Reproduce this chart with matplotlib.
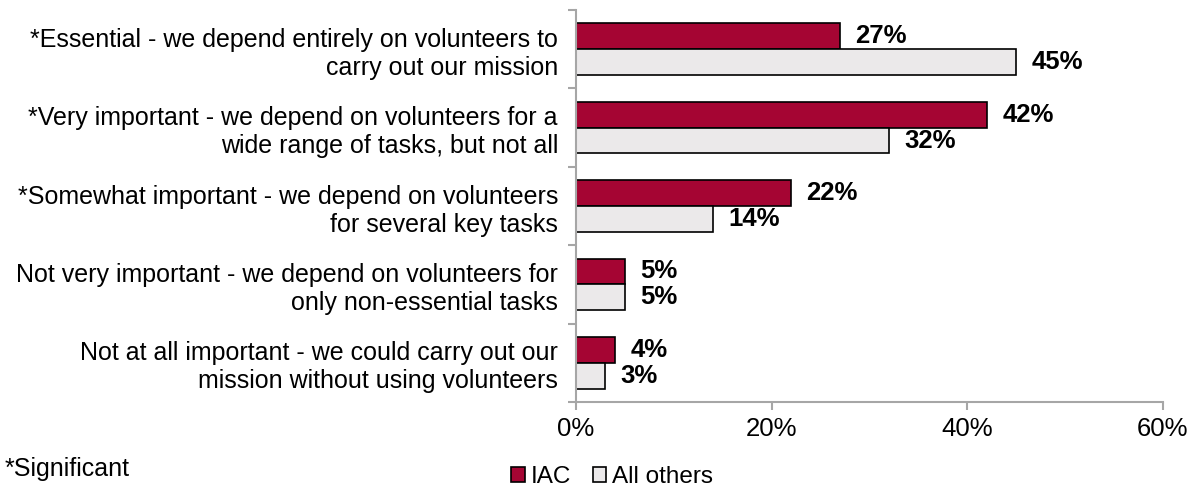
import numpy as np
import matplotlib
matplotlib.use("Agg")
import matplotlib.pyplot as plt
from matplotlib.ticker import FuncFormatter

plt.rcParams['font.family'] = ['Liberation Sans', 'DejaVu Sans']

categories = [
    "*Essential - we depend entirely on volunteers to\ncarry out our mission",
    "*Very important - we depend on volunteers for a\nwide range of tasks, but not all",
    "*Somewhat important - we depend on volunteers\nfor several key tasks",
    "Not very important - we depend on volunteers for\nonly non-essential tasks",
    "Not at all important - we could carry out our\nmission without using volunteers",
]
iac = [27, 42, 22, 5, 4]
all_others = [45, 32, 14, 5, 3]
series_names = ["IAC", "All others"]

red = "#A50533"
grey = "#EBE9EA"
axis_col = "#A6A6A6"

fig = plt.figure(figsize=(11.96, 4.87), dpi=100)
ax = fig.add_axes([0.4816, 0.1745, 0.4908, 0.805])

n = len(categories)
y = np.arange(n)
h = 0.33
ax.barh(y - h / 2, iac, height=h, color=red, edgecolor="black", linewidth=1.2, label=series_names[0])
ax.barh(y + h / 2, all_others, height=h, color=grey, edgecolor="black", linewidth=1.2, label=series_names[1])

# value labels just past the bar ends
for yi, v in zip(y - h / 2, iac):
    ax.annotate(f"{v}%", (v, yi), xytext=(11, 0), textcoords="offset points",
                va="center", ha="left", fontsize=18.5, fontweight="bold")
for yi, v in zip(y + h / 2, all_others):
    ax.annotate(f"{v}%", (v, yi), xytext=(11, 0), textcoords="offset points",
                va="center", ha="left", fontsize=18.5, fontweight="bold")

ax.set_xlim(0, 60)
ax.set_ylim(n - 0.5, -0.5)
ax.set_xticks([0, 20, 40, 60])
ax.xaxis.set_major_formatter(FuncFormatter(lambda v, p: f"{v:.0f}%"))
ax.set_yticks(y)
ax.set_yticklabels(categories, fontsize=18, linespacing=1.22)
ax.set_yticks(np.arange(n + 1) - 0.5, minor=True)
ax.tick_params(axis="y", which="major", length=0, pad=13)
ax.tick_params(axis="y", which="minor", length=6, color=axis_col, width=1.5)
ax.tick_params(axis="x", length=6, color=axis_col, width=1.5, labelsize=18.5, pad=5)

for s in ["top", "right"]:
    ax.spines[s].set_visible(False)
for s in ["left", "bottom"]:
    ax.spines[s].set_color(axis_col)
    ax.spines[s].set_linewidth(1.5)

fig.text(0.004, 0.0226, "*Significant", fontsize=18, ha="left", va="baseline")
fig.legend(loc="center", bbox_to_anchor=(0.512, 0.02), ncol=2, frameon=False,
           fontsize=17.5, handlelength=0.55, handleheight=0.55, handletextpad=0.25,
           columnspacing=0.9, borderpad=0)

fig.savefig("out.png", dpi=100)
